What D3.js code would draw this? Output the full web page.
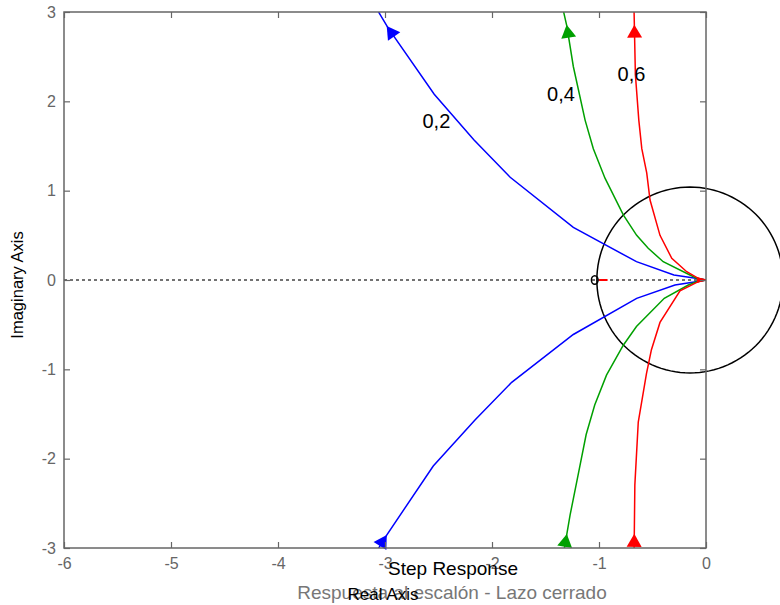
<!DOCTYPE html>
<html>
<head>
<meta charset="utf-8">
<script src="https://cdn.jsdelivr.net/npm/d3@7"></script>
<style>
    body { margin: 0; background: #fff; }
    text { font-family: "Liberation Sans", Arial, sans-serif; }
</style>
</head>
<body>
<div id="rlContainer"></div>
<script>
// Axis ticks
var xTicks = [-6, -5, -4, -3, -2, -1, 0]
var yTicks = [-3, -2, -1, 0, 1, 2, 3]

// Root locus branches, [real, imaginary]
var blueUpper = [[0, 0], [-0.05, 0.01], [-0.3, 0.056], [-0.65, 0.205], [-1.24, 0.59], [-1.83, 1.15], [-2.17, 1.57], [-2.54, 2.08], [-2.97, 2.82], [-3.1, 3.08]]
var blueLower = [[0, 0], [-0.05, -0.01], [-0.29, -0.056], [-0.648, -0.205], [-1.24, -0.61], [-1.816, -1.145], [-2.159, -1.567], [-2.549, -2.082], [-2.984, -2.855], [-3.1, -3.08]]
var greenUpper = [[0, 0], [-0.087, 0.019], [-0.15, 0.056], [-0.40, 0.205], [-0.54, 0.355], [-0.648, 0.50], [-0.773, 0.73], [-0.944, 1.14], [-1.053, 1.47], [-1.13, 1.79], [-1.24, 2.39], [-1.30, 2.84], [-1.34, 3.05]]
var greenLower = [[0, 0], [-0.087, -0.019], [-0.165, -0.056], [-0.39, -0.205], [-0.65, -0.52], [-0.773, -0.73], [-0.93, -1.065], [-1.04, -1.4], [-1.12, -1.73], [-1.19, -2.15], [-1.27, -2.63], [-1.33, -3.05]]
var redUpper = [[0, 0], [-0.072, 0.019], [-0.18, 0.093], [-0.32, 0.243], [-0.43, 0.50], [-0.523, 0.895], [-0.554, 1.20], [-0.6, 1.47], [-0.628, 1.79], [-0.66, 2.30], [-0.673, 3.05]]
var redLower = [[0, 0], [-0.072, -0.019], [-0.243, -0.121], [-0.43, -0.475], [-0.51, -0.78], [-0.556, -1.045], [-0.633, -1.59], [-0.665, -2.295], [-0.672, -3.05]]

// Gain labels and where they sit
var gainLabels = ["0,2", "0,4", "0,6"]
var labelPos = [[-2.52, 1.70], [-1.355, 2.007], [-0.696, 2.23]]

// Arrow heights on each branch (imaginary part)
var arrowUpperIm = 2.78
var arrowLowerIm = -2.92

// Reference circle (center, radii in data units)
var circleCenter = [-0.15, 0]
var circleRadii = [0.87, 1.04]

var colors = ["#0000ff", "#00a000", "#ff0000"]
var branches = [
    { color: colors[0], pts: blueUpper },
    { color: colors[0], pts: blueLower },
    { color: colors[1], pts: greenUpper },
    { color: colors[1], pts: greenLower },
    { color: colors[2], pts: redUpper },
    { color: colors[2], pts: redLower }
]

var width = 780
var height = 605
var margin = { left: 64, right: 74, top: 12, bottom: 57 }

var svg = d3.select('#rlContainer')
    .append('svg')
    .attr('width', width)
    .attr('height', height)

var xScale = d3.scaleLinear()
    .domain([-6, 0])
    .range([margin.left, width - margin.right])
var yScale = d3.scaleLinear()
    .domain([-3, 3])
    .range([height - margin.bottom, margin.top])

var x0 = xScale.range()[0], x1 = xScale.range()[1]
var y0 = yScale.range()[1], y1 = yScale.range()[0]

// clip for the branches
svg.append('clipPath').attr('id', 'plotClip')
    .append('rect')
    .attr('x', x0).attr('y', y0)
    .attr('width', x1 - x0).attr('height', y1 - y0)

// Dashed real axis
svg.append('line')
    .attr('x1', x0).attr('x2', xScale(0))
    .attr('y1', yScale(0)).attr('y2', yScale(0))
    .attr('stroke', '#444')
    .attr('stroke-width', 1.3)
    .attr('stroke-dasharray', '3,3')

var line = d3.line()
    .x(d => xScale(d[0]))
    .y(d => yScale(d[1]))

// Circle drawn through the scales
var angles = d3.range(0, 361, 3)
svg.append('path')
    .datum(angles)
    .attr('d', d3.line()
        .x(a => xScale(circleCenter[0] + circleRadii[0] * Math.cos(a * Math.PI / 180)))
        .y(a => yScale(circleCenter[1] + circleRadii[1] * Math.sin(a * Math.PI / 180))))
    .attr('fill', 'none')
    .attr('stroke', '#000')
    .attr('stroke-width', 1.5)

// Branches
var plot = svg.append('g').attr('clip-path', 'url(#plotClip)')
plot.selectAll('path.branch')
    .data(branches)
    .join('path')
    .attr('class', 'branch')
    .attr('d', d => line(d.pts))
    .attr('fill', 'none')
    .attr('stroke', d => d.color)
    .attr('stroke-width', 1.5)

// Arrow heads, pointing up the screen along the branch
function arrowAt (pts, im) {
    for (var i = 1; i < pts.length; i++) {
        var a = pts[i - 1], b = pts[i]
        if ((a[1] - im) * (b[1] - im) <= 0 && a[1] !== b[1]) {
            var t = (im - a[1]) / (b[1] - a[1])
            var re = a[0] + t * (b[0] - a[0])
            var dx = xScale(b[0]) - xScale(a[0])
            var dy = yScale(b[1]) - yScale(a[1])
            if (dy > 0) { dx = -dx; dy = -dy }
            var ang = Math.atan2(dx, -dy) * 180 / Math.PI
            return { x: xScale(re), y: yScale(im), ang: ang }
        }
    }
    return null
}
var arrows = []
branches.forEach(b => {
    var im = b.pts[b.pts.length - 1][1] > 0 ? arrowUpperIm : arrowLowerIm
    var ar = arrowAt(b.pts, im)
    if (ar) { ar.color = b.color; arrows.push(ar) }
})
svg.selectAll('path.arrow')
    .data(arrows)
    .join('path')
    .attr('class', 'arrow')
    .attr('d', 'M0,-7 L7.5,6 L-7.5,6 Z')
    .attr('transform', d => `translate(${d.x},${d.y}) rotate(${d.ang})`)
    .attr('fill', d => d.color)

// Small marks on the real axis
svg.append('ellipse')
    .attr('cx', xScale(-1.04)).attr('cy', yScale(0))
    .attr('rx', 3.3).attr('ry', 4.3)
    .attr('fill', 'none').attr('stroke', '#000').attr('stroke-width', 1.5)
svg.append('line')
    .attr('x1', xScale(-1.0)).attr('x2', xScale(-0.92))
    .attr('y1', yScale(0)).attr('y2', yScale(0))
    .attr('stroke', colors[2]).attr('stroke-width', 2)
svg.append('path')
    .attr('d', `M${xScale(0)},${yScale(0)} l-9,-3 l0,6 Z`)
    .attr('fill', colors[2])

// Gain labels
svg.selectAll('text.gain')
    .data(gainLabels)
    .join('text')
    .attr('class', 'gain')
    .attr('x', (d, i) => xScale(labelPos[i][0]))
    .attr('y', (d, i) => yScale(labelPos[i][1]))
    .attr('text-anchor', 'middle')
    .attr('font-size', 20)
    .attr('fill', '#000')
    .text(d => d)

// Frame
svg.append('rect')
    .attr('x', x0).attr('y', y0)
    .attr('width', x1 - x0).attr('height', y1 - y0)
    .attr('fill', 'none')
    .attr('stroke', '#666')
    .attr('stroke-width', 1.5)

// Axes with inward ticks
var tickLen = 6
var fmt = d => String(d)
svg.append('g')
    .attr('transform', `translate(0,${y1})`)
    .call(d3.axisBottom(xScale).tickValues(xTicks).tickSize(-tickLen).tickPadding(10).tickFormat(fmt))
svg.append('g')
    .attr('transform', `translate(0,${y0})`)
    .call(d3.axisTop(xScale).tickValues(xTicks).tickSize(-tickLen).tickFormat(''))
svg.append('g')
    .attr('transform', `translate(${x0},0)`)
    .call(d3.axisLeft(yScale).tickValues(yTicks).tickSize(-tickLen).tickPadding(8).tickFormat(fmt))
svg.append('g')
    .attr('transform', `translate(${x1},0)`)
    .call(d3.axisRight(yScale).tickValues(yTicks).tickSize(-tickLen).tickFormat(''))

svg.selectAll('.domain').remove()
svg.selectAll('.tick line').attr('stroke', '#666').attr('stroke-width', 1.2)
svg.selectAll('.tick text')
    .attr('fill', '#666')
    .attr('font-size', 16)
    .style('font-family', '"Liberation Sans", Arial, sans-serif')

// Titles
svg.append('text')
    .attr('x', 453).attr('y', 575)
    .attr('text-anchor', 'middle')
    .attr('font-size', 19)
    .attr('fill', '#000')
    .text('Step Response')

svg.append('text')
    .attr('x', 452).attr('y', 599)
    .attr('text-anchor', 'middle')
    .attr('font-size', 19)
    .attr('fill', '#777')
    .text('Respuesta al escalón - Lazo cerrado')

svg.append('text')
    .attr('x', 383).attr('y', 600)
    .attr('text-anchor', 'middle')
    .attr('font-size', 17)
    .attr('fill', '#000')
    .text('Real Axis')

svg.append('text')
    .attr('text-anchor', 'middle')
    .attr('transform', `translate(23,${285}) rotate(-90)`)
    .attr('font-size', 16.5)
    .attr('fill', '#000')
    .text('Imaginary Axis')
</script>
</body>
</html>
